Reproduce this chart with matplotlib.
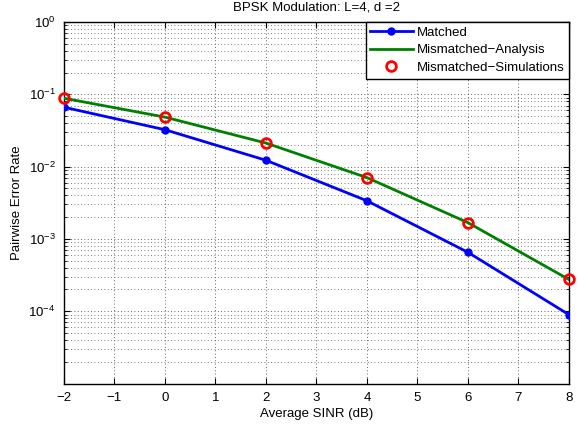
import numpy as np
import matplotlib.pyplot as plt
from matplotlib.ticker import LogLocator, NullFormatter

plt.rcParams['font.family'] = ['Liberation Sans', 'DejaVu Sans']
plt.rcParams['mathtext.fontset'] = 'custom'
plt.rcParams['mathtext.rm'] = 'Liberation Sans'

# average SINR in dB
sinr_db = [-2, 0, 2, 4, 6, 8]
# pairwise error rates
matched = [0.0663, 0.0324, 0.01225, 0.00337, 6.53e-4, 8.97e-5]
mismatched_analysis = [0.0883, 0.0484, 0.0212, 0.00705, 0.00168, 2.75e-4]
mismatched_sim = [0.0883, 0.0484, 0.0212, 0.00705, 0.00168, 2.75e-4]
yticks = [1e-4, 1e-3, 1e-2, 1e-1, 1e0]

fs = 9.5

fig = plt.figure(figsize=(5.79, 4.24), dpi=100)
ax = fig.add_axes([0.1105, 0.0955, 0.872, 0.8525])

ax.semilogy(sinr_db, matched, '-o', color='#0000ff', lw=2, ms=5,
            mfc='#0000ff', mec='#0000ff', label='Matched', zorder=3)
ax.semilogy(sinr_db, mismatched_analysis, '-', color='#008000', lw=2,
            label='Mismatched\u2212Analysis', zorder=3)
ax.semilogy(sinr_db, mismatched_sim, 'o', color='#ff0000', ms=7, mfc='none',
            mew=2, label='Mismatched\u2212Simulations', zorder=4, clip_on=False)

ax.set_xlim(-2, 8)
ax.set_ylim(1e-5, 1e0)
ax.set_xticks(range(-2, 9))
ax.set_xticklabels([str(v).replace('-', '\u2212') for v in range(-2, 9)])
ax.set_yticks(yticks)
ax.yaxis.set_minor_locator(LogLocator(base=10, subs=np.arange(2, 10)))
ax.yaxis.set_minor_formatter(NullFormatter())

dots = (0, (1, 3))
ax.grid(True, which='major', linestyle=dots, color='#333333', lw=0.6)
ax.grid(True, which='minor', axis='y', linestyle=dots, color='#555555', lw=0.6)

ax.tick_params(which='both', direction='in', top=True, right=True, labelsize=fs)
ax.tick_params(which='major', length=4)
ax.tick_params(which='minor', length=2)
ax.tick_params(axis='x', pad=6)
ax.tick_params(axis='y', pad=6)
for s in ax.spines.values():
    s.set_linewidth(1)

ax.set_title('BPSK Modulation: L=4, d =2', fontsize=fs, pad=8)
ax.set_xlabel('Average SINR (dB)', fontsize=fs, labelpad=3)
ax.set_ylabel('Pairwise Error Rate', fontsize=fs, labelpad=4)

leg = ax.legend(loc='upper right', fontsize=fs, borderaxespad=0, fancybox=False,
                framealpha=1, edgecolor='black', handlelength=3.2,
                handletextpad=0.3, borderpad=0.35, labelspacing=0.4)
leg.get_frame().set_linewidth(1)

fig.savefig('out.png', dpi=100)
